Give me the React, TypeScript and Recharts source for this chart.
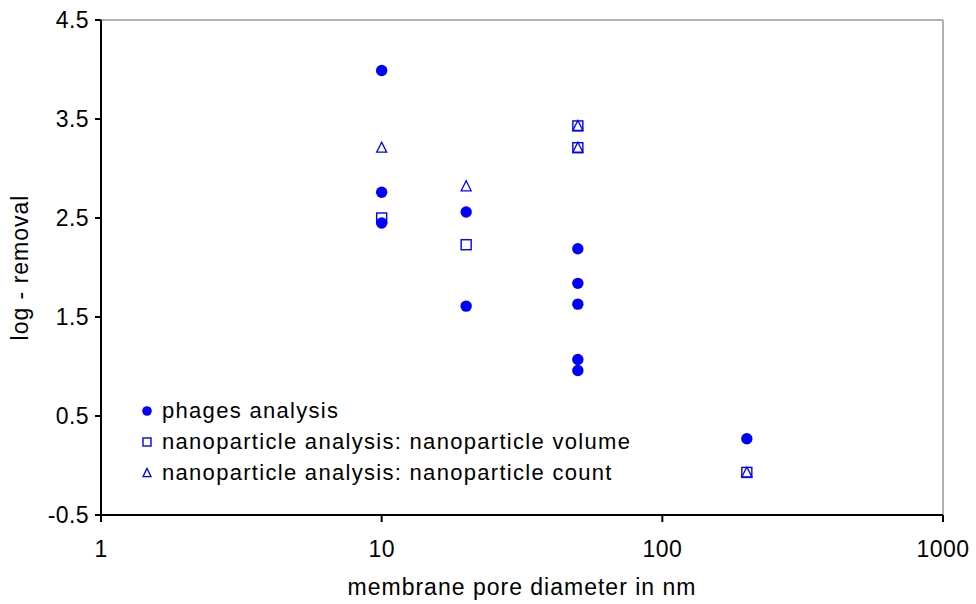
import React from 'react';
import {
  ScatterChart, Scatter, XAxis, YAxis, ReferenceLine, Legend, Label
} from 'recharts';

// membrane pore diameter (nm) and log-removal values
const phagesX = [10, 10, 10, 20, 20, 50, 50, 50, 50, 50, 200];
const phagesY = [3.99, 2.76, 2.45, 2.56, 1.61, 2.19, 1.84, 1.63, 1.07, 0.96, 0.27];

const volumeX = [10, 20, 50, 50, 200];
const volumeY = [2.5, 2.23, 3.43, 3.21, -0.07];

const countX = [10, 20, 50, 50, 200];
const countY = [3.21, 2.82, 3.43, 3.21, -0.07];

const xTicks = [1, 10, 100, 1000];
const yTicks = [-0.5, 0.5, 1.5, 2.5, 3.5, 4.5];

const seriesNames = [
  'phages analysis',
  'nanoparticle analysis: nanoparticle volume',
  'nanoparticle analysis: nanoparticle count',
];

const BLUE = '#0000ff';

const toPoints = (xs: number[], ys: number[]) => xs.map((x, i) => ({ x, y: ys[i] }));

const Dot = ({ cx, cy, r = 5.7 }: any) => <circle cx={cx} cy={cy} r={r} fill={BLUE} />;

const Square = ({ cx, cy, s = 10 }: any) => (
  <rect x={cx - s / 2} y={cy - s / 2} width={s} height={s} fill="none" stroke={BLUE} strokeWidth={1.4} />
);

const Triangle = ({ cx, cy, s = 10 }: any) => {
  const h = s * 0.9;
  return (
    <polygon
      points={`${cx},${cy - h / 2 - 1} ${cx - s / 2},${cy + h / 2} ${cx + s / 2},${cy + h / 2}`}
      fill="none"
      stroke={BLUE}
      strokeWidth={1.3}
    />
  );
};

function LegendBox() {
  const icons = [
    <Dot cx={6} cy={6} r={4.8} />,
    <Square cx={6} cy={6} s={8} />,
    <Triangle cx={6} cy={6} s={8} />,
  ];
  return (
    <div style={{ fontSize: 22, letterSpacing: 1.3, color: '#000' }}>
      {seriesNames.map((n, i) => (
        <div key={n} style={{ display: 'flex', alignItems: 'center', height: 31 }}>
          <svg width={12} height={12} style={{ marginRight: 9 }}>{icons[i]}</svg>
          <span>{n}</span>
        </div>
      ))}
    </div>
  );
}

const tickStyle = { fill: '#000', fontSize: 23, letterSpacing: 0.4 };
const titleStyle = { fontSize: 23, fill: '#000', letterSpacing: 1 };

export default function App() {
  return (
    <div style={{ position: 'absolute', left: 0, top: 0, fontFamily: '"Liberation Sans", Arial, sans-serif' }}>
      <ScatterChart width={976} height={604} margin={{ top: 20, right: 33, left: 41, bottom: 29 }}>
        <XAxis
          type="number"
          dataKey="x"
          scale="log"
          domain={[1, 1000]}
          ticks={xTicks}
          allowDataOverflow
          axisLine={{ stroke: '#000', strokeWidth: 2 }}
          tickLine={{ stroke: '#000', strokeWidth: 2 }}
          tickSize={7}
          tickMargin={19}
          tick={tickStyle}
          height={60}
        >
          <Label value="membrane pore diameter in nm" position="center" dy={42} style={titleStyle} />
        </XAxis>
        <YAxis
          type="number"
          dataKey="y"
          domain={[-0.5, 4.5]}
          ticks={yTicks}
          allowDataOverflow
          axisLine={{ stroke: '#000', strokeWidth: 2 }}
          tickLine={{ stroke: '#000', strokeWidth: 2 }}
          tickSize={6}
          tickMargin={6}
          tick={tickStyle}
          width={60}
        >
          <Label value="log - removal" angle={-90} position="center" dx={-51} style={titleStyle} />
        </YAxis>
        <ReferenceLine y={4.5} stroke="#999" strokeWidth={1.5} />
        <ReferenceLine x={1000} stroke="#999" strokeWidth={1.5} />
        <Legend
          layout="vertical"
          align="center"
          verticalAlign="middle"
          content={() => <LegendBox />}
          wrapperStyle={{ left: 141, top: 395, width: 560 }}
        />
        <Scatter name={seriesNames[0]} data={toPoints(phagesX, phagesY)} shape={<Dot />} isAnimationActive={false} />
        <Scatter name={seriesNames[1]} data={toPoints(volumeX, volumeY)} shape={<Square />} isAnimationActive={false} />
        <Scatter name={seriesNames[2]} data={toPoints(countX, countY)} shape={<Triangle />} isAnimationActive={false} />
      </ScatterChart>
    </div>
  );
}
